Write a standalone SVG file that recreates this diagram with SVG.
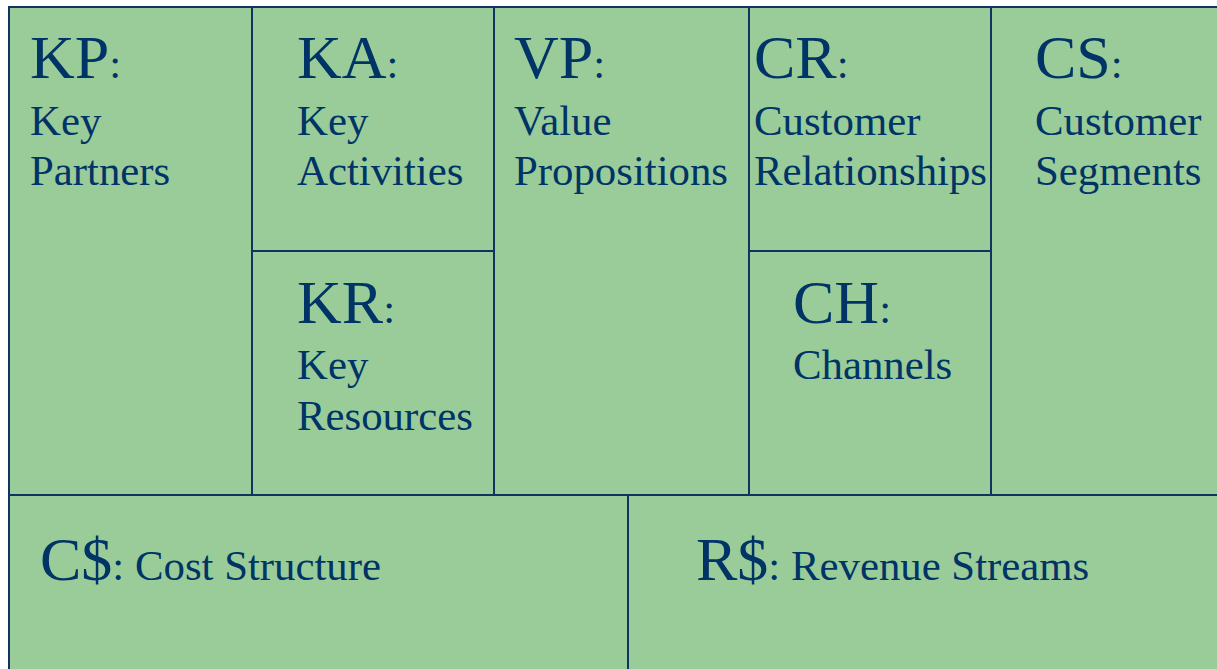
<svg xmlns="http://www.w3.org/2000/svg" width="1217" height="669" viewBox="0 0 1217 669">
  <style>
    .cell { fill: #99cc99; stroke: #0f3461; stroke-width: 2; }
    .t { font-family: "Liberation Serif", "Times New Roman", serif; fill: #003366; font-size: 42.8px; }
    .big { font-size: 62px; }
  </style>
  <rect x="0" y="0" width="1217" height="669" fill="#ffffff"/>

  <!-- Business model canvas blocks -->
  <g id="kp">
    <rect class="cell" x="9" y="7" width="243" height="488"/>
    <text class="t" x="30" y="78"><tspan class="big">KP</tspan>:</text>
    <text class="t" x="30" y="135">Key</text>
    <text class="t" x="30" y="185">Partners</text>
  </g>
  <g id="ka">
    <rect class="cell" x="252" y="7" width="242" height="244"/>
    <text class="t" x="297" y="78"><tspan class="big">KA</tspan>:</text>
    <text class="t" x="297" y="135">Key</text>
    <text class="t" x="297" y="185">Activities</text>
  </g>
  <g id="kr">
    <rect class="cell" x="252" y="251" width="242" height="244"/>
    <text class="t" x="297" y="323"><tspan class="big">KR</tspan>:</text>
    <text class="t" x="297" y="379">Key</text>
    <text class="t" x="297" y="430">Resources</text>
  </g>
  <g id="vp">
    <rect class="cell" x="494" y="7" width="255" height="488"/>
    <text class="t" x="514" y="78"><tspan class="big">VP</tspan>:</text>
    <text class="t" x="514" y="135">Value</text>
    <text class="t" x="514" y="185">Propositions</text>
  </g>
  <g id="cr">
    <rect class="cell" x="749" y="7" width="242" height="244"/>
    <text class="t" x="754" y="78"><tspan class="big">CR</tspan>:</text>
    <text class="t" x="754" y="135">Customer</text>
    <text class="t" x="754" y="185">Relationships</text>
  </g>
  <g id="ch">
    <rect class="cell" x="749" y="251" width="242" height="244"/>
    <text class="t" x="793" y="323"><tspan class="big">CH</tspan>:</text>
    <text class="t" x="793" y="379">Channels</text>
  </g>
  <g id="cs">
    <rect class="cell" x="991" y="7" width="240" height="488"/>
    <text class="t" x="1035" y="78"><tspan class="big">CS</tspan>:</text>
    <text class="t" x="1035" y="135">Customer</text>
    <text class="t" x="1035" y="185">Segments</text>
  </g>
  <g id="cost">
    <rect class="cell" x="9" y="495" width="619" height="190"/>
    <text class="t" x="40" y="580"><tspan class="big">C$</tspan>: Cost Structure</text>
  </g>
  <g id="revenue">
    <rect class="cell" x="628" y="495" width="603" height="190"/>
    <text class="t" x="696" y="580"><tspan class="big">R$</tspan>: Revenue Streams</text>
  </g>

  <g id="connectors"></g>
</svg>
